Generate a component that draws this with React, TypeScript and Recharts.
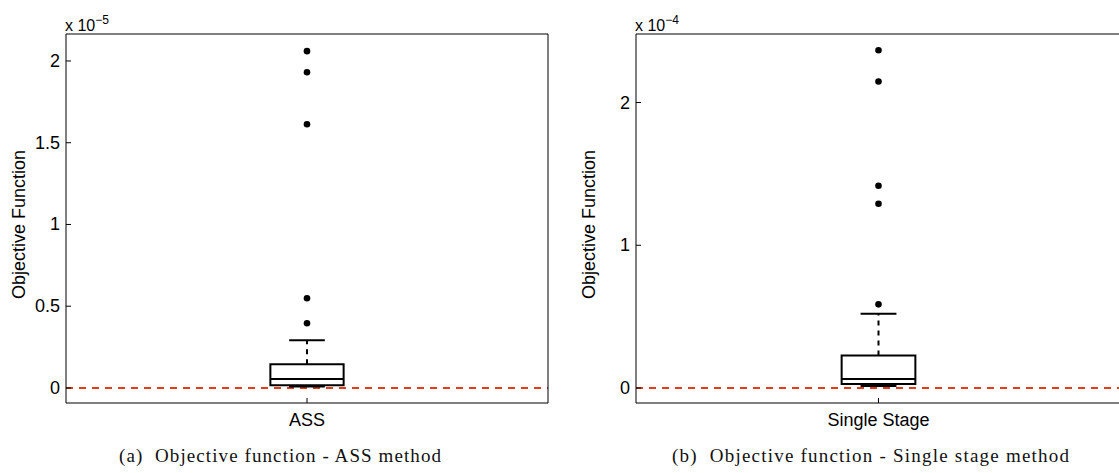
import { ComposedChart, Scatter, XAxis, YAxis, ReferenceLine, ReferenceArea } from "recharts";

// values are in units of the axis multiplier (x 10^-5 for ASS, x 10^-4 for Single Stage)
// stats: lower whisker, q1, median, q3, upper whisker
const assCategory = ["ASS"];
const assStats = [0.009, 0.016, 0.055, 0.145, 0.292];
const assOutliers = [2.06, 1.931, 1.613, 0.549, 0.396];
const assTicks = [0, 0.5, 1, 1.5, 2];
const assDomain = [-0.092, 2.165];

const singleCategory = ["Single Stage"];
const singleStats = [0.014, 0.028, 0.063, 0.227, 0.521];
const singleOutliers = [2.366, 2.147, 1.417, 1.291, 0.586];
const singleTicks = [0, 1, 2];
const singleDomain = [-0.105, 2.48];

const FONT = "'Liberation Sans', Arial, Helvetica, sans-serif";
const TICK_FONT = 18;
const BOX_HALF = 0.076;
const CAP_HALF = 0.037;
const RED = "#de3e1c";

function LeftTick(props: any) {
  const { x, y, payload } = props;
  const ax = x + 5;
  return (
    <g>
      <line x1={ax} x2={ax + 5} y1={y} y2={y} stroke="#000" />
      <text x={ax - 6} y={y} textAnchor="end" dominantBaseline="central" fontFamily={FONT} fontSize={TICK_FONT} fill="#000">
        {payload.value}
      </text>
    </g>
  );
}

function RightTick(props: any) {
  const { x, y } = props;
  return <line x1={x - 5} x2={x} y1={y} y2={y} stroke="#000" />;
}

function TopTick(props: any) {
  const { x, y } = props;
  return <line x1={x} x2={x} y1={y} y2={y + 5} stroke="#000" />;
}

function makeBottomTick(labels: string[]) {
  return function BottomTick(props: any) {
    const { x, y, payload } = props;
    return (
      <g>
        <line x1={x} x2={x} y1={y - 5} y2={y} stroke="#000" />
        <text x={x} y={y + 17} textAnchor="middle" dominantBaseline="central" fontFamily={FONT} fontSize={TICK_FONT} fill="#000">
          {labels[payload.value - 1]}
        </text>
      </g>
    );
  };
}

interface BoxPanelProps {
  left: number;
  width: number;
  categories: string[];
  stats: number[];
  outliers: number[];
  ticks: number[];
  domain: number[];
  exponent: string;
}

function BoxPanel({ left, width, categories, stats, outliers, ticks, domain, exponent }: BoxPanelProps) {
  const [lo, q1, med, q3, hi] = stats;
  const pos = 1;
  const points = outliers.map((v) => ({ x: pos, y: v }));

  return (
    <>
      <div style={{ position: "absolute", left, top: 0 }}>
        <ComposedChart width={width} height={473} margin={{ top: 33, right: 11, bottom: 40, left: 0 }}>
          <XAxis
            type="number"
            dataKey="x"
            domain={[0.5, 1.5]}
            ticks={[1]}
            height={30}
            tickSize={0}
            tickMargin={0}
            tickLine={false}
            axisLine={{ stroke: "#000" }}
            tick={makeBottomTick(categories)}
          />
          <XAxis
            xAxisId="top"
            orientation="top"
            type="number"
            domain={[0.5, 1.5]}
            ticks={[1]}
            height={1}
            tickSize={0}
            tickMargin={0}
            tickLine={false}
            axisLine={{ stroke: "#000" }}
            tick={TopTick}
          />
          <YAxis
            type="number"
            dataKey="y"
            domain={domain}
            ticks={ticks}
            width={66}
            tickSize={0}
            tickMargin={5}
            tickLine={false}
            axisLine={{ stroke: "#000" }}
            tick={LeftTick}
            label={{
              content: (p: any) => {
                const vb = p.viewBox;
                const cy = vb.y + vb.height / 2 + 6;
                return (
                  <text x={19} y={cy} transform={`rotate(-90, 19, ${cy})`} textAnchor="middle" dominantBaseline="central" fontFamily={FONT} fontSize={TICK_FONT} fill="#000">
                    Objective Function
                  </text>
                );
              },
            }}
          />
          <YAxis
            yAxisId="right"
            orientation="right"
            type="number"
            domain={domain}
            ticks={ticks}
            width={1}
            tickSize={0}
            tickMargin={0}
            tickLine={false}
            axisLine={{ stroke: "#000" }}
            tick={RightTick}
          />
          <ReferenceLine y={0} stroke={RED} strokeWidth={2} strokeDasharray="7 6" />
          <ReferenceLine segment={[{ x: pos, y: q3 }, { x: pos, y: hi }]} stroke="#000" strokeWidth={2} strokeDasharray="5 5" />
          <ReferenceLine segment={[{ x: pos, y: lo }, { x: pos, y: q1 }]} stroke="#000" strokeWidth={2} strokeDasharray="5 5" />
          <ReferenceArea x1={pos - BOX_HALF} x2={pos + BOX_HALF} y1={q1} y2={q3} fill="#fff" fillOpacity={1} stroke="#000" strokeWidth={2} />
          <ReferenceLine segment={[{ x: pos - BOX_HALF, y: med }, { x: pos + BOX_HALF, y: med }]} stroke="#000" strokeWidth={2} />
          <ReferenceLine segment={[{ x: pos - CAP_HALF, y: hi }, { x: pos + CAP_HALF, y: hi }]} stroke="#000" strokeWidth={2} />
          <ReferenceLine segment={[{ x: pos - CAP_HALF, y: lo }, { x: pos + CAP_HALF, y: lo }]} stroke="#000" strokeWidth={2} />
          <Scatter
            data={points}
            isAnimationActive={false}
            shape={(p: any) => <circle cx={p.cx} cy={p.cy} r={3.3} fill="#000" />}
          />
        </ComposedChart>
      </div>
      <div style={{ position: "absolute", left: left + 65, top: 11, fontFamily: FONT, fontSize: 16, lineHeight: "20px", color: "#000" }}>
        x 10<sup style={{ fontSize: 12, position: "relative", top: -1 }}>{exponent}</sup>
      </div>
    </>
  );
}

export default function App() {
  return (
    <div style={{ position: "absolute", left: 0, top: 0, width: 1119, height: 473, overflow: "hidden", background: "#fff" }}>
      <BoxPanel
        left={0}
        width={560}
        categories={assCategory}
        stats={assStats}
        outliers={assOutliers}
        ticks={assTicks}
        domain={assDomain}
        exponent="−5"
      />
      <BoxPanel
        left={570}
        width={563}
        categories={singleCategory}
        stats={singleStats}
        outliers={singleOutliers}
        ticks={singleTicks}
        domain={singleDomain}
        exponent="−4"
      />
      <svg width={1119} height={473} style={{ position: "absolute", left: 0, top: 0, pointerEvents: "none" }}>
        <g fontFamily="'Liberation Serif', 'Times New Roman', serif" fontSize={19} fill="#111">
          <text x={119} y={462} textLength={322} lengthAdjust="spacing" xmlSpace="preserve">
            (a)  Objective function - ASS method
          </text>
          <text x={672} y={462} textLength={397} lengthAdjust="spacing" xmlSpace="preserve">
            (b)  Objective function - Single stage method
          </text>
        </g>
      </svg>
    </div>
  );
}
